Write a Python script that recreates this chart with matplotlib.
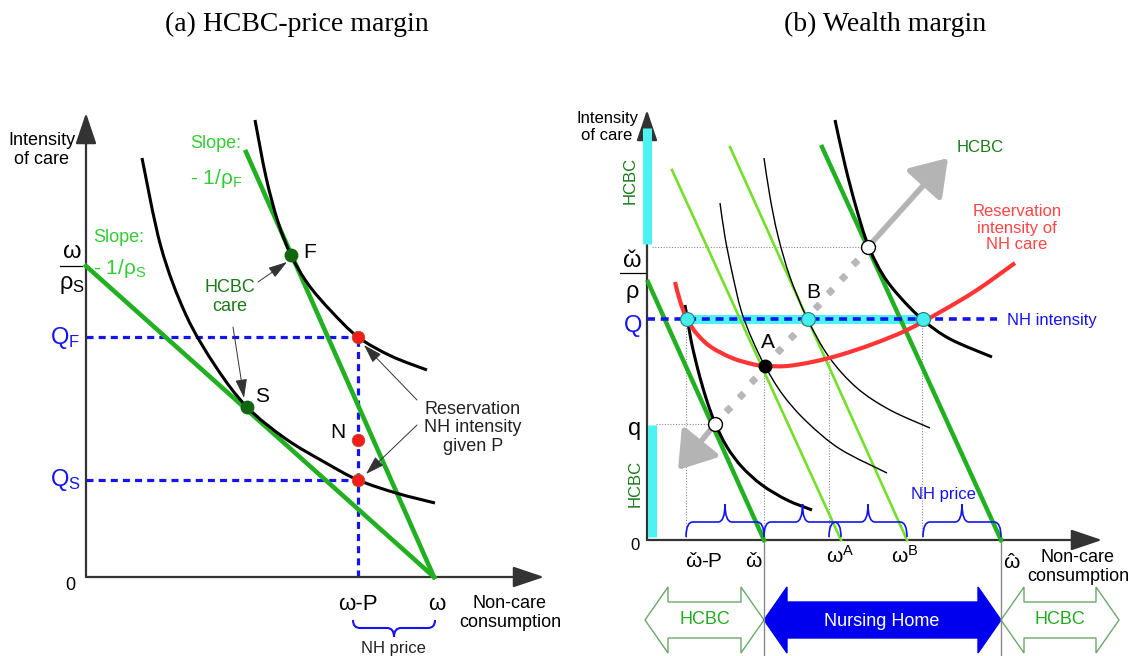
import numpy as np
import matplotlib.pyplot as plt
from matplotlib.path import Path
from matplotlib.patches import PathPatch, Polygon, FancyArrowPatch

plt.rcParams['font.family'] = ['Liberation Sans', 'DejaVu Sans']
plt.rcParams['mathtext.default'] = 'regular'

# ---------------- panel (a) values (pixels from the axes origin) ----------------
a_omega = 348            # omega on the x axis
a_price = 76             # NH price
a_int_S = 311            # omega / rho_S
a_top_F = (160, 425)     # upper end of the steep budget line
a_F = (205, 322)
a_S = (161, 170)
a_QF = 240
a_N = 137
a_QS = 97
a_curveS_x = [56, 75, 100, 130, 161, 200, 240, 272, 310, 349]
a_curveS_y = [419, 330, 262, 210, 170, 138, 114, 97, 84, 74]
a_curveF_x = [169, 180, 192, 205, 222, 245, 272, 305, 341]
a_curveF_y = [457, 400, 355, 322, 293, 266, 240, 221, 207]

# ---------------- panel (b) values ----------------
b_price = 78
b_w_check = 117
b_wA = 194
b_wB = 260
b_w_hat = 354
b_Q = 221
b_q = 116
b_dark_top_x = [1, 175]
b_dark_top_y = [258, 393]
b_dark_end = [117, 354]
b_light_top_x = [25, 83]
b_light_top_y = [370, 393]
b_light_end = [194, 260]
b_c0_x = [38, 44, 51, 59, 68, 80, 95, 115, 140, 165]
b_c0_y = [235, 200, 170, 142, 117, 93, 73, 55, 40, 30]
b_c1_x = [73, 78, 85, 94, 105, 118, 136, 160, 193, 240]
b_c1_y = [337, 303, 268, 230, 201, 174, 145, 118, 91, 67]
b_c2_x = [117, 123, 131, 143, 160, 182, 210, 243, 283]
b_c2_y = [382, 343, 304, 263, 222, 183, 152, 130, 112]
b_c3_x = [188, 198, 209, 221, 236, 253, 276, 303, 345]
b_c3_y = [420, 375, 333, 295, 265, 243, 220, 201, 183]
b_red_x = [28, 33, 40, 50, 64, 85, 105, 118, 140, 165, 193, 226, 260, 295, 330, 368]
b_red_y = [258, 239, 221, 206, 193, 182, 176, 174, 174, 178, 185, 196, 210, 229, 250, 277]
b_Q_pts_x = [40, 161, 276]
b_A = (118, 174)
b_white_x = [68, 221]
b_white_y = [116, 293]
b_arrow_up_tip = (301, 382)
b_arrow_down_tip = (31, 70)
b_brace_from = [39, 117, 182, 276]
b_brace_to = [117, 194, 260, 354]
b_vdot_x = [39, 117, 182, 275]
b_vdot_top = [221, 174, 183, 221]

DKGREEN = '#22b022'
LTGREEN = '#74e02a'
TXTGREEN = '#1a7a1a'
BLUE = '#1414f0'
RED = '#ff3535'
CYAN = '#4df2f2'
AXC = '#333333'


def smooth_path(xs, ys):
    pts = np.column_stack([xs, ys]).astype(float)
    verts = [pts[0]]
    codes = [Path.MOVETO]
    n = len(pts)
    for i in range(n - 1):
        p0 = pts[i - 1] if i > 0 else pts[i]
        p1, p2 = pts[i], pts[i + 1]
        p3 = pts[i + 2] if i + 2 < n else pts[i + 1]
        verts += [p1 + (p2 - p0) / 6, p2 - (p3 - p1) / 6, p2]
        codes += [Path.CURVE4] * 3
    return Path(verts, codes)


def curve(ax, xs, ys, **kw):
    ax.add_patch(PathPatch(smooth_path(xs, ys), fill=False, capstyle='butt', **kw))


def brace(ax, x0, x1, y0, h1, h, r, **kw):
    xm = (x0 + x1) / 2
    verts = [(x0, y0), (x0, y0 + h1), (x0 + r, y0 + h1),
             (xm - r, y0 + h1), (xm, y0 + h1), (xm, y0 + h),
             (xm, y0 + h1), (xm + r, y0 + h1),
             (x1 - r, y0 + h1), (x1, y0 + h1), (x1, y0)]
    codes = [Path.MOVETO, Path.CURVE3, Path.CURVE3,
             Path.LINETO, Path.CURVE3, Path.CURVE3,
             Path.CURVE3, Path.CURVE3,
             Path.LINETO, Path.CURVE3, Path.CURVE3]
    ax.add_patch(PathPatch(Path(verts, codes), fill=False, **kw))


def axis_arrow(ax, start, tip):
    ax.annotate('', xy=tip, xytext=start,
                arrowprops=dict(arrowstyle='-|>,head_length=0.8,head_width=0.27',
                                mutation_scale=24, lw=1.6, color=AXC,
                                shrinkA=0, shrinkB=0))


def double_arrow(ax, x0, x1, yc, hs, hh, hl, **kw):
    v = [(x0, yc), (x0 + hl, yc + hh), (x0 + hl, yc + hs), (x1 - hl, yc + hs),
         (x1 - hl, yc + hh), (x1, yc), (x1 - hl, yc - hh), (x1 - hl, yc - hs),
         (x0 + hl, yc - hs), (x0 + hl, yc - hh)]
    ax.add_patch(Polygon(v, closed=True, **kw))


def accented_omega(ax, x, y, accent, rest='', size=15):
    # omega centred at x on baseline y, accent glyph on top, optional trailing text
    t = ax.text(x, y, 'ω', ha='center', va='baseline', fontsize=size)
    ax.text(x, y, accent, ha='center', va='baseline', fontsize=size)
    if rest:
        w = t.get_window_extent(renderer).width
        ax.text(x + w / 2, y, rest, ha='left', va='baseline', fontsize=size)


fig = plt.figure(figsize=(11.33, 6.56), dpi=100)
renderer = fig.canvas.get_renderer()
axa = fig.add_axes([0, 0, 566 / 1133, 1])
axa.set_xlim(-86, 480)
axa.set_ylim(-79, 577)
axb = fig.add_axes([566 / 1133, 0, 567 / 1133, 1])
axb.set_xlim(-81, 486)
axb.set_ylim(-116, 540)
for ax in (axa, axb):
    ax.axis('off')

fig.text(297 / 1133, 1 - 24 / 656, '(a) HCBC-price margin', ha='center', va='center',
         family='Liberation Serif', fontsize=20)
fig.text(885 / 1133, 1 - 24 / 656, '(b) Wealth margin', ha='center', va='center',
         family='Liberation Serif', fontsize=20)

# ======================= panel (a) =======================
ax = axa
axis_arrow(ax, (0, 0), (0, 464))
axis_arrow(ax, (0, 0), (458, 0))

ax.plot([0, a_omega], [a_int_S, 0], color=DKGREEN, lw=3.3, zorder=3)
ax.plot([a_top_F[0], a_omega], [a_top_F[1], 0], color=DKGREEN, lw=3.3, zorder=3)
curve(ax, a_curveS_x, a_curveS_y, color='black', lw=2.2, zorder=3)
curve(ax, a_curveF_x, a_curveF_y, color='black', lw=2.2, zorder=3)

wp = a_omega - a_price
ax.plot([0, wp], [a_QF, a_QF], color=BLUE, lw=2.3, dashes=(2.2, 1.6), zorder=2)
ax.plot([0, wp], [a_QS, a_QS], color=BLUE, lw=2.3, dashes=(2.2, 1.6), zorder=2)
ax.plot([wp, wp], [0, a_QF], color=BLUE, lw=2.3, dashes=(2.2, 1.6), zorder=2)

ax.plot([wp] * 3, [a_QF, a_N, a_QS], 'o', ms=9, mfc='#ff1a1a', mec='#9a5a2a', mew=0.6, zorder=6)
ax.plot([a_F[0], a_S[0]], [a_F[1], a_S[1]], 'o', ms=9, color='#126612', zorder=6)

brace(ax, wp - 5, a_omega + 1, -43, -8, -17, 7, color=BLUE, lw=1.5)

ax.text(-44, 427, 'Intensity\nof care', ha='center', va='center', fontsize=13, linespacing=1.15)
ax.text(-16, -8, '0', ha='center', va='center', fontsize=13)
ax.text(-14, 325, 'ω', ha='center', va='center', fontsize=17)
ax.plot([-26, -4], [311, 311], color='black', lw=0.9)
ax.text(-14, 292, r'$\rho_S$', ha='center', va='center', fontsize=17)
ax.text(-21, 239, r'$Q_F$', ha='center', va='center', fontsize=17, color=BLUE)
ax.text(-21, 97, r'$Q_S$', ha='center', va='center', fontsize=17, color=BLUE)
ax.text(wp, -28, 'ω-P', ha='center', va='center', fontsize=16)
ax.text(a_omega + 3, -28, 'ω', ha='center', va='center', fontsize=16)
ax.text(424, -36, 'Non-care\nconsumption', ha='center', va='center', fontsize=13, linespacing=1.1)
ax.text(307, -71, 'NH price', ha='center', va='center', fontsize=12, color='#222222')
ax.text(7, 339, 'Slope:', ha='left', va='center', fontsize=13, color='#33cc33')
ax.text(7, 308, r'- 1/$\rho_S$', ha='left', va='center', fontsize=15, color='#33cc33')
ax.text(104, 434, 'Slope:', ha='left', va='center', fontsize=13, color='#33cc33')
ax.text(104, 399, r'- 1/$\rho_F$', ha='left', va='center', fontsize=15, color='#33cc33')
ax.text(224, 325, 'F', ha='center', va='center', fontsize=15)
ax.text(176, 180, 'S', ha='center', va='center', fontsize=15)
ax.text(252, 145, 'N', ha='center', va='center', fontsize=15)
ax.text(144, 280, 'HCBC\ncare', ha='center', va='center', fontsize=13, color=TXTGREEN,
        linespacing=1.1)
ax.text(387, 149, 'Reservation\nNH intensity\ngiven P', ha='center', va='center',
        fontsize=13, color='#222222', linespacing=1.1)

thin = dict(arrowstyle='-|>,head_length=0.9,head_width=0.28', mutation_scale=13,
            lw=0.7, color='#333333', shrinkA=0, shrinkB=0)
ax.annotate('', xy=(201, 315), xytext=(172, 295), arrowprops=thin)
ax.annotate('', xy=(158, 179), xytext=(147, 250), arrowprops=thin)
ax.annotate('', xy=(278, 232), xytext=(331, 177), arrowprops=thin)
ax.annotate('', xy=(280, 103), xytext=(331, 152), arrowprops=thin)

# ======================= panel (b) =======================
ax = axb
axis_arrow(ax, (0, 0), (0, 430))
axis_arrow(ax, (0, 0), (455, 0))

ax.plot([-0.5, -0.5], [296, 412], color=CYAN, lw=6.5, solid_capstyle='butt', zorder=4)
ax.plot([4.5, 4.5], [3, 115], color=CYAN, lw=6.5, solid_capstyle='butt', zorder=4)

# thin guide lines
dot = dict(color='#8a8a8a', lw=0.8, ls=(0, (1, 1.5)), zorder=1)
ax.plot([5, b_white_x[1]], [b_white_y[1]] * 2, **dot)
ax.plot([9, b_white_x[0]], [b_white_y[0]] * 2, **dot)
for x, t in zip(b_vdot_x, b_vdot_top):
    ax.plot([x, x], [0, t], **dot)
ax.plot([b_w_check, b_w_check], [0, -116], color='#8a8a8a', lw=1, clip_on=False)
ax.plot([b_w_hat, b_w_hat], [0, -116], color='#8a8a8a', lw=1, clip_on=False)

for x0, y0, x1 in zip(b_light_top_x, b_light_top_y, b_light_end):
    ax.plot([x0, x1], [y0, 0], color=LTGREEN, lw=1.9, zorder=3)
for x0, y0, x1 in zip(b_dark_top_x, b_dark_top_y, b_dark_end):
    ax.plot([x0, x1], [y0, 0], color=DKGREEN, lw=3.2, zorder=3)

curve(ax, b_c0_x, b_c0_y, color='black', lw=2.2, zorder=3)
curve(ax, b_c1_x, b_c1_y, color='black', lw=1.0, zorder=3)
curve(ax, b_c2_x, b_c2_y, color='black', lw=1.0, zorder=3)
curve(ax, b_c3_x, b_c3_y, color='black', lw=2.2, zorder=3)

ax.plot([b_Q_pts_x[0], b_Q_pts_x[-1]], [b_Q, b_Q], color=CYAN, lw=6.5,
        solid_capstyle='butt', zorder=2)
ax.plot([0, 350], [b_Q, b_Q], color=BLUE, lw=2.6, dashes=(2.2, 1.6), zorder=3)
curve(ax, b_red_x, b_red_y, color=RED, lw=3.0, zorder=4)

# gray arrows along the wealth path
n_d = 12
dx = np.linspace(b_white_x[0], b_white_x[1], n_d + 1)[1:-1]
dy = np.linspace(b_white_y[0], b_white_y[1], n_d + 1)[1:-1]
ax.plot(dx, dy, 'D', ms=4.5, color='#b8b8b8', zorder=4)
gray = dict(arrowstyle='-|>,head_length=0.9,head_width=0.6', mutation_scale=24,
            lw=4, color='#b4b4b4', shrinkA=0, shrinkB=0, zorder=4)
ax.add_patch(FancyArrowPatch((b_white_x[1], b_white_y[1]), b_arrow_up_tip, **gray))
ax.add_patch(FancyArrowPatch((b_white_x[0], b_white_y[0]), b_arrow_down_tip, **gray))

ax.plot(b_Q_pts_x, [b_Q] * 3, 'o', ms=10, mfc='#44eeee', mec='#2a7a7a', mew=0.8, zorder=6)
ax.plot(b_white_x, b_white_y, 'o', ms=10, mfc='white', mec='black', mew=1.0, zorder=6)
ax.plot([b_A[0]], [b_A[1]], 'o', ms=9, color='black', zorder=6)

for x0, x1 in zip(b_brace_from, b_brace_to):
    brace(ax, x0, x1, 3, 15, 33, 7, color=BLUE, lw=1.2, zorder=5)

# bottom regime arrows
double_arrow(ax, -2, b_w_check, -80, 18, 33, 23, fill=False, ec='#6aa86a', lw=1.0,
             clip_on=False)
double_arrow(ax, b_w_check, b_w_hat, -80, 18, 33, 23, fc='#0000ee', ec='#0000ee', lw=1.0)
double_arrow(ax, b_w_hat, 472, -80, 18, 33, 23, fill=False, ec='#6aa86a', lw=1.0,
             clip_on=False)
ax.text(58, -80, 'HCBC', ha='center', va='center', fontsize=13, color='#22aa22')
ax.text(235, -81, 'Nursing Home', ha='center', va='center', fontsize=13, color='white')
ax.text(413, -80, 'HCBC', ha='center', va='center', fontsize=13, color='#22aa22')

# labels
ax.text(-40, 413, 'Intensity\nof care', ha='center', va='center', fontsize=12, linespacing=1.1)
ax.text(-17, 360, 'HCBC', ha='center', va='center', rotation=90, fontsize=12, color=TXTGREEN)
ax.text(-12, 57, 'HCBC', ha='center', va='center', rotation=90, fontsize=12, color=TXTGREEN)
accented_omega(ax, -15, 273, 'ˇ', size=17)
ax.plot([-27, -2], [267, 267], color='black', lw=0.9)
ax.text(-15, 248, 'ρ', ha='center', va='center', fontsize=17)
ax.text(-14, 214, 'Q', ha='center', va='center', fontsize=17, color=BLUE)
ax.text(-12, 111, 'q', ha='center', va='center', fontsize=17)
ax.text(-12, -5, '0', ha='center', va='center', fontsize=12)
accented_omega(ax, 46, -27, 'ˇ', rest='-P')
accented_omega(ax, 106, -27, 'ˇ')
ax.text(193, -16, r'$\omega^A$', ha='center', va='center', fontsize=15)
ax.text(258, -16, r'$\omega^B$', ha='center', va='center', fontsize=15)
accented_omega(ax, 364, -28, 'ˆ')
ax.text(431, -27, 'Non-care\nconsumption', ha='center', va='center', fontsize=13, linespacing=1.1)
ax.text(121, 198, 'A', ha='center', va='center', fontsize=15)
ax.text(166, 247, 'B', ha='center', va='center', fontsize=15)
ax.text(360, 220, 'NH intensity', ha='left', va='center', fontsize=12, color=BLUE)
ax.text(333, 393, 'HCBC', ha='center', va='center', fontsize=12, color=TXTGREEN)
ax.text(370, 312, 'Reservation\nintensity of\nNH care', ha='center', va='center',
        fontsize=12, color='#ff4444', linespacing=1.1)
ax.text(296, 45, 'NH price', ha='center', va='center', fontsize=12, color=BLUE)

fig.savefig('out.png', dpi=100)
